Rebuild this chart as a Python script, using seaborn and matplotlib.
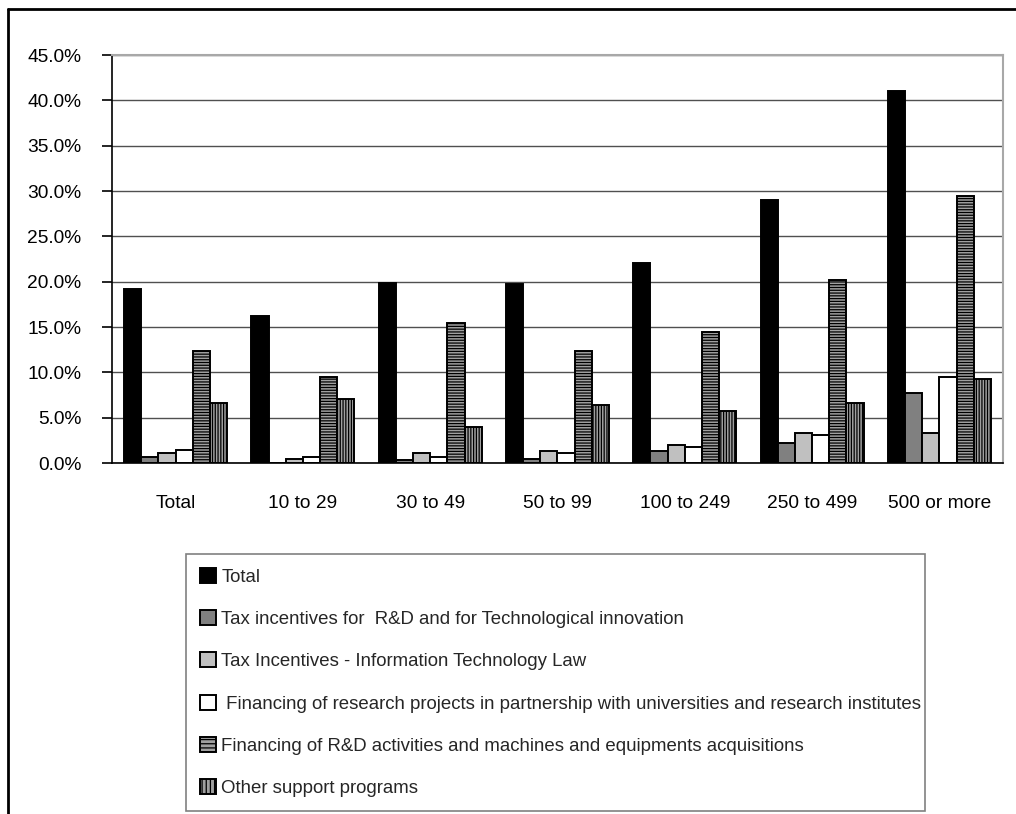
import numpy as np
import pandas as pd
import matplotlib
matplotlib.use("Agg")
import matplotlib.pyplot as plt
from matplotlib.lines import Line2D
from matplotlib.patches import Patch
from matplotlib.ticker import FuncFormatter, MultipleLocator
import seaborn as sns

# Firm size classes
categories = ["Total", "10 to 29", "30 to 49", "50 to 99", "100 to 249", "250 to 499", "500 or more"]

# Support programme series
series = [
    "Total",
    "Tax incentives for  R&D and for Technological innovation",
    "Tax Incentives - Information Technology Law",
    " Financing of research projects in partnership with universities and research institutes",
    "Financing of R&D activities and machines and equipments acquisitions",
    "Other support programs",
]

# Share of firms (%) per size class
total_pct = [19.2, 16.2, 19.9, 19.7, 22.1, 29.0, 41.0]
tax_rd_pct = [0.7, 0.0, 0.3, 0.4, 1.3, 2.2, 7.7]
tax_it_pct = [1.1, 0.4, 1.1, 1.3, 2.0, 3.3, 3.3]
fin_research_pct = [1.4, 0.7, 0.7, 1.1, 1.8, 3.1, 9.5]
fin_rd_pct = [12.4, 9.5, 15.4, 12.4, 14.4, 20.2, 29.5]
other_pct = [6.6, 7.1, 4.0, 6.4, 5.7, 6.6, 9.3]

values = [total_pct, tax_rd_pct, tax_it_pct, fin_research_pct, fin_rd_pct, other_pct]

rows = []
for name, vals in zip(series, values):
    for cat, v in zip(categories, vals):
        rows.append({"size": cat, "program": name, "share": v})
df = pd.DataFrame(rows)

sns.set_theme(style="white")
plt.rcParams["font.family"] = ["Liberation Sans", "DejaVu Sans"]
plt.rcParams["hatch.linewidth"] = 0.9
plt.rcParams["hatch.color"] = "black"

FS = 13.8
LEG_FS = 13.4

fig = plt.figure(figsize=(10.16, 8.14), dpi=100)
ax = fig.add_axes([0.1102, 0.4312, 0.8770, 0.5012])

sns.barplot(data=df, x="size", y="share", hue="program", order=categories,
            hue_order=series, width=0.81, ax=ax, legend=False, errorbar=None,
            saturation=1)

faces = ["#000000", "#808080", "#c0c0c0", "#ffffff", "#a0a0a0", "#a0a0a0"]
hatches = [None, None, None, None, "------", "||||||"]
for cont, fc, h in zip(ax.containers, faces, hatches):
    for bar in cont:
        bar.set_facecolor(fc)
        bar.set_edgecolor("black")
        bar.set_linewidth(1.4)
        if h:
            bar.set_hatch(h)

ax.set_ylim(0, 45)
ax.set_xlim(-0.5, len(categories) - 0.5)
ax.yaxis.set_major_locator(MultipleLocator(5))
ax.yaxis.set_major_formatter(FuncFormatter(lambda v, p: f"{v:.1f}%"))
ax.grid(axis="y", color="#505050", linewidth=1.0)
ax.set_axisbelow(True)
ax.set_xlabel("")
ax.set_ylabel("")

for side in ["top", "right"]:
    ax.spines[side].set_color("#a8a8a8")
    ax.spines[side].set_linewidth(1.5)
for side in ["left", "bottom"]:
    ax.spines[side].set_color("black")
    ax.spines[side].set_linewidth(1.2)

ax.set_xticks(np.arange(-0.5, len(categories), 1), minor=True)
ax.tick_params(axis="x", which="major", length=0, pad=23, labelsize=FS, colors="black")
ax.tick_params(axis="x", which="minor", length=8, width=1.2, color="black", direction="out")
ax.tick_params(axis="y", length=7, width=1.2, color="black", direction="out",
               left=True, pad=15, labelsize=FS, labelcolor="black")

handles = [Patch(facecolor=fc, edgecolor="black", hatch=h, linewidth=1.4)
           for fc, h in zip(faces, ["", "", "", "", "----", "||||"])]
leg = fig.legend(handles, series, loc="upper left",
                 bbox_to_anchor=(0.183, 0.0037, 0.727, 0.3157), mode="expand",
                 fontsize=LEG_FS, frameon=True, fancybox=False, edgecolor="#808080",
                 framealpha=1, handlelength=0.85, handleheight=0.85,
                 handletextpad=0.3, labelspacing=1.31, borderaxespad=0,
                 borderpad=0.75)
leg.get_frame().set_linewidth(1.2)

# outer frame around the whole graphic
fig.add_artist(Line2D([8 / 1016, 1.0], [1 - 9 / 814, 1 - 9 / 814],
                      transform=fig.transFigure, color="black", linewidth=2))
fig.add_artist(Line2D([8 / 1016, 8 / 1016], [0, 1 - 9 / 814],
                      transform=fig.transFigure, color="black", linewidth=2))

fig.savefig("out.png", dpi=100, facecolor="white")
